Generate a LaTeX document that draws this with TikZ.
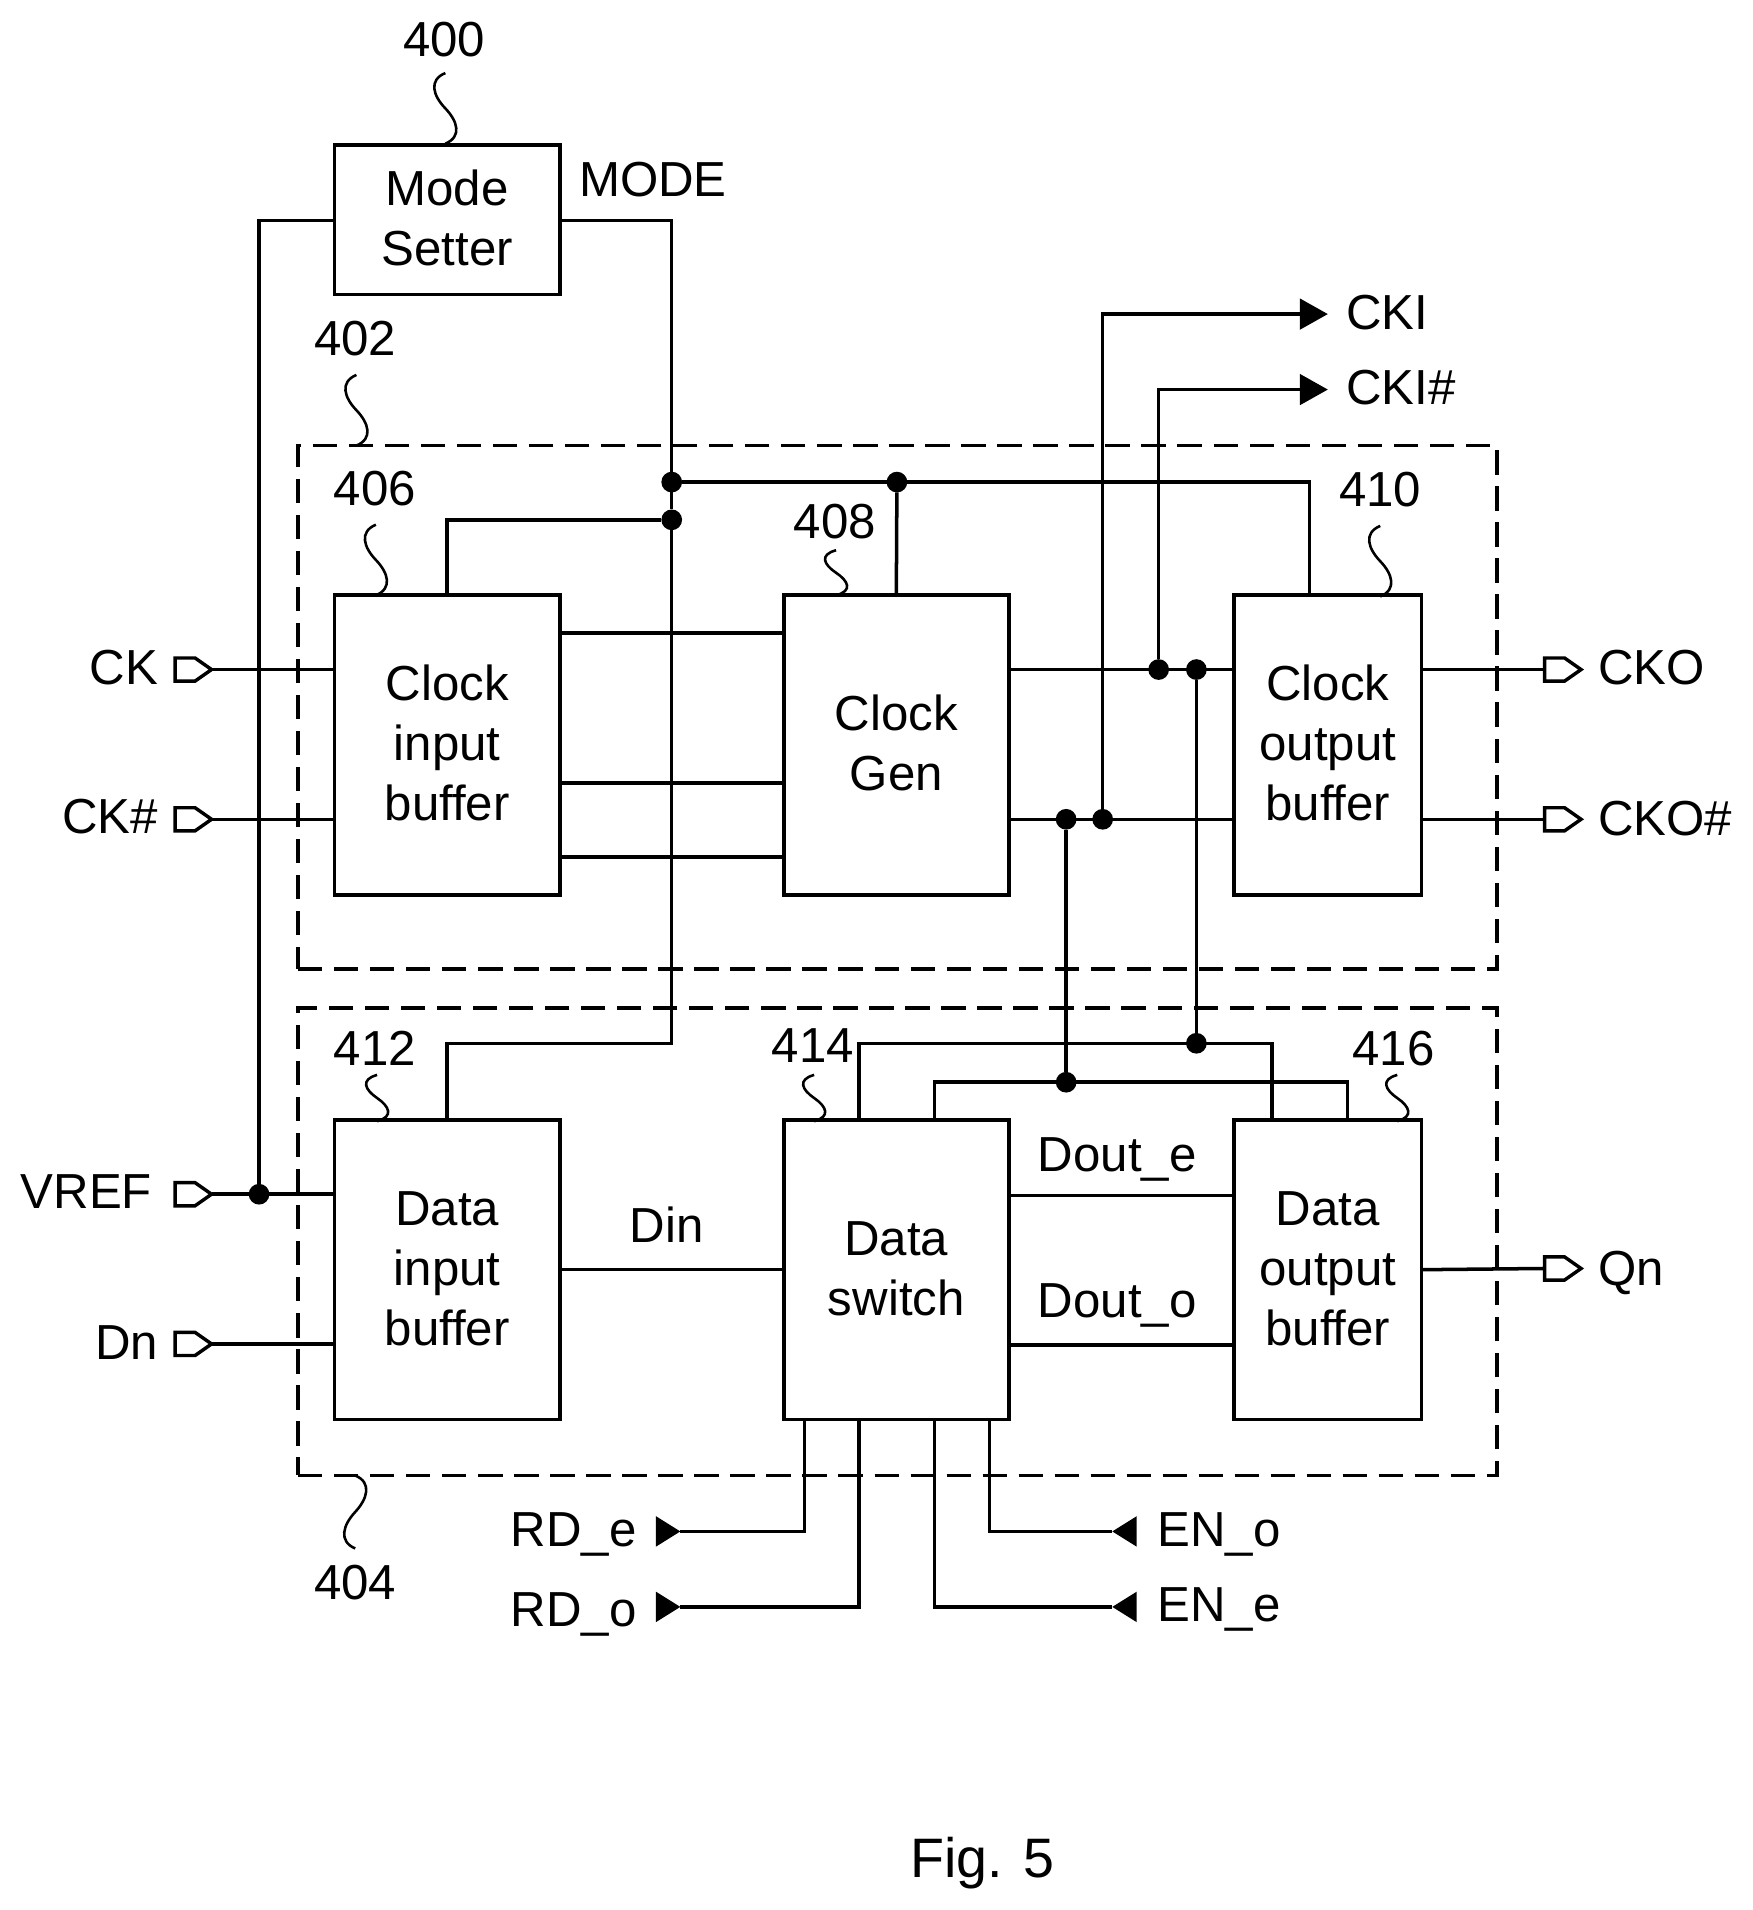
\documentclass[tikz,border=0pt]{standalone}
\usepackage{fontspec}
\setmainfont{Liberation Sans}
\usetikzlibrary{shapes, shapes.geometric, shapes.symbols, arrows.meta, calc, positioning}

\newcommand{\squig}[4]{\draw[leadline,shift={(#1,#2)},yscale=#3,xscale=#4] (0,0) .. controls (-.14,-.1) and (-.1,-.32) .. (0,-.5) .. controls (.1,-.68) and (.14,-.9) .. (0,-1);}
\newcommand{\blk}[1]{\raisebox{-.03cm}[\height][\depth]{\begin{tabular}{@{}c@{}}#1\end{tabular}}}

\begin{document}
\begin{tikzpicture}[
  lab/.style = {font=\fontsize{11.5}{14}\selectfont, inner sep=0pt, outer sep=0pt},
  main/.style = {draw, rectangle, line width=.85pt, outer sep=0pt, inner sep=0pt,
                 font=\fontsize{11.5}{14}\selectfont, minimum width=1.85cm, minimum height=2.46cm},
  narrow/.style = {main, minimum width=1.54cm},
  wire/.style = {line width=.82pt},
  group/.style = {draw, rectangle, line width=.8pt, dash pattern=on .2cm off .096cm, outer sep=0pt, inner sep=0pt},
  leadline/.style = {line width=.6pt},
  dot/.style = {circle, fill, inner sep=0pt, outer sep=0pt, minimum size=.17cm},
  port/.style = {signal, signal to=east, signal pointer angle=70, draw, line width=.8pt, outer sep=0pt,
                 inner sep=0pt, minimum width=.30cm, minimum height=.19cm, anchor=east},
  solidport/.style = {isosceles triangle, isosceles triangle stretches, fill, outer sep=0pt, inner sep=0pt,
                 minimum width=.25cm, minimum height=.2cm},
  outarrow/.style = {wire, -{Triangle[length=.23cm,width=.25cm]}}
]
\useasboundingbox (-.008,0) rectangle (14.392,-15.69);

% groups first
\node[group, minimum width=9.85cm, minimum height=4.30cm] (clkgroup) at (7.365,-5.81) {};
\node[group, minimum width=9.85cm, minimum height=3.84cm] (datagroup) at (7.365,-10.20) {};

% blocks
\node[main] (clkin) at (3.665,-6.12) {\blk{Clock\\input\\buffer}};
\node[main, minimum height=1.23cm] (mode) [above=2.47cm of clkin] {\blk{Mode\\Setter}};
\node[main] (clkgen) [right=1.84cm of clkin] {\blk{Clock\\Gen}};
\node[narrow] (clkout) [right=1.85cm of clkgen] {\blk{Clock\\output\\buffer}};
\node[main] (datain) [below=1.85cm of clkin] {\blk{Data\\input\\buffer}};
\node[main] (dataswitch) [right=1.84cm of datain] {\blk{Data\\switch}};
\node[narrow] (dataout) [right=1.85cm of dataswitch] {\blk{Data\\output\\buffer}};

% input and output pads
\node[port] (ck) at (1.73,-5.50) {};
\node[port] (ckb) at (1.73,-6.73) {};
\node[port] (vref) at (1.73,-9.81) {};
\node[port] (dn) at (1.73,-11.04) {};
\node[port] (cko) at (12.98,-5.50) {};
\node[port] (ckob) at (12.98,-6.73) {};
\node[port] (qn) at (12.98,-10.42) {};
\node[solidport] (rde) at (5.45,-12.58) {};
\node[solidport] (rdo) at (5.45,-13.20) {};
\node[solidport, shape border rotate=180] (eno) at (9.26,-12.58) {};
\node[solidport, shape border rotate=180] (ene) at (9.26,-13.20) {};
\coordinate (cki) at (10.90,-2.58);
\coordinate (ckib) at (10.90,-3.20);

% junctions
\node[dot] (j1) at (5.51,-3.96) {};
\node[dot] (j2) at (5.51,-4.27) {};
\node[dot] (j3) at (7.36,-3.96) {};
\node[dot] (j4) at (9.51,-5.50) {};
\node[dot] (j5) at (9.82,-5.50) {};
\node[dot] (j6) at (8.75,-6.73) {};
\node[dot] (j7) at (9.05,-6.73) {};
\node[dot] (j8) at (9.82,-8.57) {};
\node[dot] (j9) at (8.75,-8.89) {};
\node[dot] (j10) at (2.12,-9.81) {};

% attach points
\coordinate (a1) at (5.20,-5.20);
\coordinate (a2) at (5.20,-6.43);
\coordinate (a3) at (5.20,-7.04);
\coordinate (a4) at (7.05,-8.57);
\coordinate (a5) at (7.67,-8.89);
\coordinate (a6) at (10.44,-8.57);
\coordinate (a7) at (11.06,-8.89);
\coordinate (a8) at (6.60,-11.66);
\coordinate (a9) at (7.05,-11.66);
\coordinate (a10) at (7.67,-11.66);
\coordinate (a11) at (8.12,-11.66);
\coordinate (a12) at (10.75,-3.96);

% connectors
\draw[wire] (mode.west |- 0,-1.81) -| (j10);
\draw[wire] (mode.east |- 0,-1.81) -| (j2);
\draw[wire] (j2) -- (5.51,-8.57) -| (datain.north);
\draw[wire] (j2) -| (clkin.north);
\draw[wire] (j1) -- (j3);
\draw[wire] (j3) -- (clkgen.north);
\draw[wire] (j3) -- (a12) -- (a12 |- clkout.north);
\draw[wire] (ck.east) -- (ck -| clkin.west);
\draw[wire] (ckb.east) -- (ckb -| clkin.west);
\draw[wire] (vref.east) -- (vref -| datain.west);
\draw[wire] (dn.east) -- (dn -| datain.west);
\draw[wire] (a1 -| clkin.east) -- (a1 -| clkgen.west);
\draw[wire] (a2 -| clkin.east) -- (a2 -| clkgen.west);
\draw[wire] (a3 -| clkin.east) -- (a3 -| clkgen.west);
\draw[wire] (j4 -| clkgen.east) -- (j4 -| clkout.west);
\draw[wire] (j6 -| clkgen.east) -- (j6 -| clkout.west);
\draw[wire] (ck -| clkout.east) -- (cko.west);
\draw[wire] (ckb -| clkout.east) -- (ckob.west);
\draw[outarrow] (j7) |- (cki);
\draw[outarrow] (j4) |- (ckib);
\draw[wire] (j5) -- (j8);
\draw[wire] (j6) -- (j9);
\draw[wire] (a4 |- dataswitch.north) -- (a4) -- (a6) -- (a6 |- dataout.north);
\draw[wire] (a5 |- dataswitch.north) -- (a5) -- (a7) -- (a7 |- dataout.north);
\draw[wire] (datain.east) -- (dataswitch.west);
\draw[wire] (dataswitch.west -| dataswitch.east) ++(0,.61) -- ++(1.85,0);
\draw[wire] (dataswitch.west -| dataswitch.east) ++(0,-.62) -- ++(1.85,0);
\draw[wire] (dataout.east) -- (qn.west);
\draw[wire] (a8) |- (rde.apex);
\draw[wire] (a9) |- (rdo.apex);
\draw[wire] (a11) |- (eno.apex);
\draw[wire] (a10) |- (ene.apex);

% leader lines
\squig{3.65}{-.60}{.58}{1}
\squig{2.92}{-3.08}{.58}{1}
\squig{3.08}{-4.31}{.58}{1}
\squig{6.86}{-4.52}{.37}{1}
\squig{11.33}{-4.32}{.58}{1}
\squig{3.09}{-8.83}{.38}{1}
\squig{6.68}{-8.83}{.38}{1}
\squig{11.47}{-8.83}{.38}{1}
\squig{2.91}{-12.12}{.60}{-1}

% labels
\node[lab, anchor=base] (n400) at (3.64,-.46) {400};
\node[lab, anchor=base] (n402) at (2.91,-2.92) {402};
\node[lab, anchor=base] (n406) at (3.07,-4.15) {406};
\node[lab, anchor=base] (n408) at (6.85,-4.42) {408};
\node[lab, anchor=base] (n410) at (11.33,-4.16) {410};
\node[lab, anchor=base] (n412) at (3.07,-8.75) {412};
\node[lab, anchor=base] (n414) at (6.67,-8.73) {414};
\node[lab, anchor=base] (n416) at (11.44,-8.75) {416};
\node[lab, anchor=base] (n404) at (2.91,-13.14) {404};
\node[lab, anchor=base west] (lmode) at (4.75,-1.61) {MODE};
\node[lab, anchor=base west] (lcki) at (11.05,-2.71) {CKI};
\node[lab, anchor=base west] (lckib) at (11.05,-3.32) {CKI\#};
\node[lab, anchor=base east] (lck) at (1.29,-5.62) {CK};
\node[lab, anchor=base east] (lckb) at (1.29,-6.85) {CK\#};
\node[lab, anchor=base east] (lvref) at (1.24,-9.93) {VREF};
\node[lab, anchor=base east] (ldn) at (1.29,-11.17) {Dn};
\node[lab, anchor=base west] (lcko) at (13.12,-5.62) {CKO};
\node[lab, anchor=base west] (lckob) at (13.12,-6.86) {CKO\#};
\node[lab, anchor=base west] (lqn) at (13.12,-10.56) {Qn};
\node[lab, anchor=base east] (lrde) at (5.22,-12.70) {RD\_e};
\node[lab, anchor=base east] (lrdo) at (5.22,-13.36) {RD\_o};
\node[lab, anchor=base west] (leno) at (9.50,-12.70) {EN\_o};
\node[lab, anchor=base west] (lene) at (9.50,-13.32) {EN\_e};
\node[lab, anchor=base] (ldin) at (5.47,-10.21) {Din};
\node[lab, anchor=base] (ldoe) at (9.17,-9.62) {Dout\_e};
\node[lab, anchor=base] (ldoo) at (9.17,-10.82) {Dout\_o};
\node[lab, anchor=base, font=\fontsize{13}{15}\selectfont] (fig) at (8.06,-15.42) {Fig. 5};
\end{tikzpicture}
\end{document}
